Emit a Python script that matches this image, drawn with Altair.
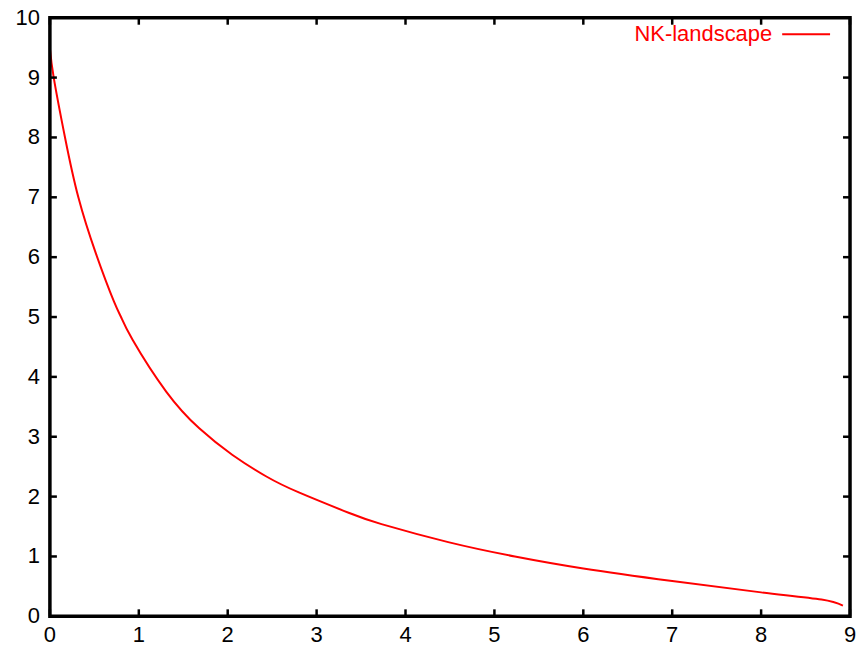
import altair as alt
import pandas as pd

# data
x_vals = [0.0, 0.043, 0.17, 0.32, 0.52, 0.72, 0.80, 0.93, 1.31, 1.68, 2.05, 2.43, 2.80,
          3.36, 3.73, 4.48, 5.23, 6.0, 7.0, 8.0, 8.68, 8.92]
y_vals = [9.49, 9.0, 8.0, 7.0, 6.05, 5.26, 5.0, 4.62, 3.75, 3.14, 2.70, 2.34, 2.07,
          1.73, 1.54, 1.24, 1.00, 0.80, 0.59, 0.40, 0.28, 0.18]
series_name = "NK-landscape"
x_ticks = list(range(0, 10))
y_ticks = list(range(0, 11))

df = pd.DataFrame({"x": x_vals, "y": y_vals, "series": series_name})
xt_df = pd.DataFrame({"x": x_ticks, "label": [str(v) for v in x_ticks]})
yt_df = pd.DataFrame({"y": y_ticks, "label": [str(v) for v in y_ticks]})

FONT = "Liberation Sans"
W, H = 802, 600
TICK = 7

xscale = alt.Scale(domain=[0, 9], nice=False, zero=False)
yscale = alt.Scale(domain=[0, 10], nice=False, zero=False)

X = alt.X("x:Q", scale=xscale, axis=None)
Y = alt.Y("y:Q", scale=yscale, axis=None)

line = alt.Chart(df).mark_line(color="red", strokeWidth=2, interpolate="natural").encode(
    x=X, y=Y)

tick_style = dict(color="black", strokeWidth=2.5)
x_ticks_bottom = alt.Chart(xt_df).mark_rule(**tick_style).encode(
    x=X, y=alt.value(H), y2=alt.value(H - TICK))
x_ticks_top = alt.Chart(xt_df).mark_rule(**tick_style).encode(
    x=X, y=alt.value(0), y2=alt.value(TICK))
y_ticks_left = alt.Chart(yt_df).mark_rule(**tick_style).encode(
    y=Y, x=alt.value(0), x2=alt.value(TICK))
y_ticks_right = alt.Chart(yt_df).mark_rule(**tick_style).encode(
    y=Y, x=alt.value(W), x2=alt.value(W - TICK))

# tick labels placed through the scales
x_labels = alt.Chart(xt_df).mark_text(
    align="center", baseline="top", font=FONT, fontSize=22, color="black"
).encode(x=X, y=alt.value(H + 9), text="label:N")
y_labels = alt.Chart(yt_df).mark_text(
    align="right", baseline="middle", font=FONT, fontSize=22, color="black"
).encode(y=Y, x=alt.value(-10), text="label:N")

legend_df = pd.DataFrame({"label": [series_name]})
legend_text = alt.Chart(legend_df).mark_text(
    align="right", baseline="alphabetic", font=FONT, fontSize=22, color="red"
).encode(x=alt.value(724), y=alt.value(23.5), text="label:N")

legend_line = alt.Chart(legend_df).mark_rule(color="red", strokeWidth=2).encode(
    x=alt.value(734), x2=alt.value(782), y=alt.value(16.5)
)

frame = alt.Chart(legend_df).mark_rect(
    fill=None, fillOpacity=0, stroke="black", strokeWidth=3.5
).encode(x=alt.value(0), x2=alt.value(W), y=alt.value(0), y2=alt.value(H))

chart = alt.layer(
    line, x_ticks_bottom, x_ticks_top, y_ticks_left, y_ticks_right,
    x_labels, y_labels, legend_text, legend_line, frame
).properties(
    width=W, height=H,
    autosize=alt.AutoSizeParams(type="none"),
    padding={"left": 42, "top": 9, "right": 8, "bottom": 30},
).configure(
    background="white",
    view=alt.ViewConfig(strokeOpacity=0),
)

chart.save("out.html", embed_options={"renderer": "svg", "actions": False})
